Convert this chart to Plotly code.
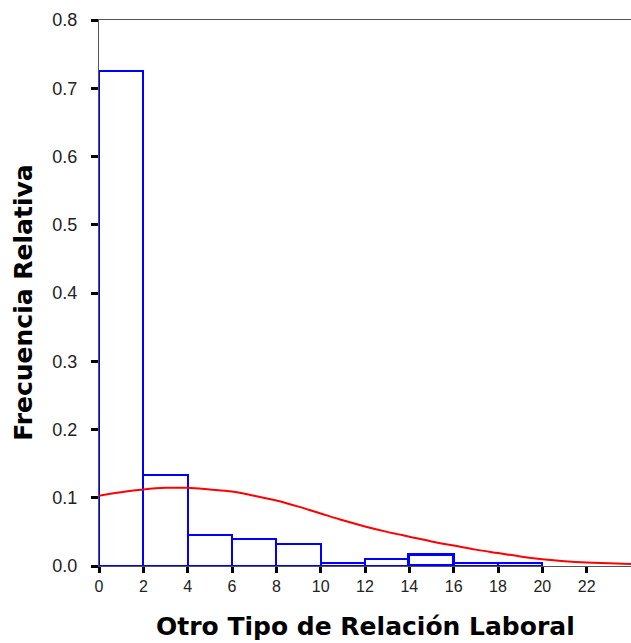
import plotly.graph_objects as go

# Histogram bins (lower edge, width) and relative frequencies
bin_left = [0, 2, 4, 6, 8, 10, 12, 14, 16, 18]
bin_width = [2, 2, 2, 2, 2, 2, 2, 2, 2, 2]
rel_freq = [0.726, 0.134, 0.045, 0.040, 0.032, 0.004, 0.010, 0.016, 0.004, 0.004]

# Fitted curve
curve_x = [0, 1, 2, 3, 4, 5, 6, 7, 8, 9, 10, 11, 12, 13, 14, 15, 16, 17, 18, 19, 20, 21, 22, 23, 24]
curve_y = [0.103, 0.108, 0.112, 0.1145, 0.1145, 0.112, 0.109, 0.103, 0.096, 0.087, 0.077, 0.067,
           0.058, 0.050, 0.043, 0.036, 0.030, 0.024, 0.019, 0.014, 0.010, 0.007, 0.005, 0.004, 0.003]

x_ticks = [0, 2, 4, 6, 8, 10, 12, 14, 16, 18, 20, 22]
y_ticks = [0.0, 0.1, 0.2, 0.3, 0.4, 0.5, 0.6, 0.7, 0.8]

x_title = "Otro Tipo de Relación Laboral"
y_title = "Frecuencia Relativa"

centers = [l + w / 2 for l, w in zip(bin_left, bin_width)]
line_w = [3 if (l == 14) else 2 for l in bin_left]

fig = go.Figure()
fig.add_trace(go.Bar(
    x=centers, y=rel_freq, width=bin_width,
    marker=dict(color="rgba(0,0,0,0)", line=dict(color="#0000ff", width=line_w)),
    showlegend=False, hoverinfo="skip",
))
fig.add_trace(go.Scatter(
    x=curve_x, y=curve_y, mode="lines",
    line=dict(color="#ff0000", width=2, shape="spline"),
    showlegend=False, hoverinfo="skip",
))

title_font = dict(family="DejaVu Sans, Verdana, sans-serif", size=25, color="#000000", weight="bold")

# plot area: 546 px tall, 532 px wide
fig.update_layout(
    width=631, height=643,
    margin=dict(l=99, r=0, t=20, b=77),
    paper_bgcolor="white", plot_bgcolor="white",
    font=dict(family="Liberation Sans, Arial, sans-serif", color="#222222"),
    bargap=0,
    annotations=[
        dict(text=x_title, xref="paper", yref="paper", x=0.5, y=-0.1405,
             xanchor="center", yanchor="bottom", showarrow=False, font=title_font),
        dict(text=y_title, xref="paper", yref="paper", x=-0.141, y=0.482,
             xanchor="center", yanchor="middle", showarrow=False, textangle=-90, font=title_font),
    ],
)
fig.update_xaxes(
    range=[0, 24], tickvals=x_ticks, ticktext=[str(t) for t in x_ticks],
    showgrid=False, zeroline=False,
    showline=True, linecolor="#555555", linewidth=1, mirror=True,
    ticks="outside", ticklen=6, tickwidth=3, tickcolor="#000000",
    tickfont=dict(family="Liberation Sans Narrow, Liberation Sans, Arial", size=16, color="#222222"),
)
fig.update_yaxes(
    range=[0, 0.8], tickvals=y_ticks, ticktext=[f"{t:.1f}" for t in y_ticks],
    showgrid=False, zeroline=False,
    showline=True, linecolor="#555555", linewidth=1,
    ticks="outside", ticklen=7, tickwidth=3, tickcolor="#000000",
    ticklabelstandoff=10,
    tickfont=dict(family="Liberation Sans, Arial", size=18, color="#222222"),
)

fig.write_html(
    "out.html",
    config={"displayModeBar": False},
    post_script="document.body.style.margin='0';document.body.style.overflow='hidden';",
)
